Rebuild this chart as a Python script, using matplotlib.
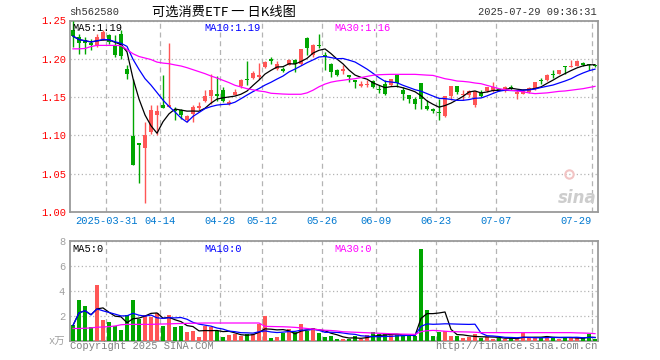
import matplotlib
matplotlib.use("Agg")
import matplotlib.pyplot as plt
import numpy as np
import pandas as pd

plt.rcParams['font.family'] = ['Liberation Mono', 'Noto Sans CJK SC', 'DejaVu Sans']

# ---------------------------------------------------------------- data
holidays = ['2025-04-04', '2025-05-01', '2025-05-02', '2025-05-05', '2025-06-02']
dates = pd.bdate_range('2025-03-21', '2025-07-29')
dates = dates[~dates.isin(pd.to_datetime(holidays))]

opens = [1.237, 1.229, 1.224, 1.2205, 1.2175, 1.226, 1.2305, 1.2175, 1.233, 1.187,
         1.0994, 1.0899, 1.0829, 1.1046, 1.1263, 1.1393, 1.137, 1.1337, 1.1328, 1.12,
         1.1285, 1.136, 1.1445, 1.1515, 1.1545, 1.1597, 1.1406, 1.1524, 1.1645, 1.1732,
         1.1755, 1.1762, 1.1893, 1.1992, 1.1871, 1.1871, 1.1923, 1.198, 1.1936, 1.2274,
         1.2044, 1.2183, 1.2053, 1.1936, 1.1849, 1.184, 1.1783, 1.1727, 1.1645, 1.1658,
         1.1705, 1.161, 1.1675, 1.1653, 1.1783, 1.1597, 1.1523, 1.148, 1.1688, 1.138,
         1.135, 1.1306, 1.125, 1.151, 1.164, 1.1523, 1.1523, 1.1393, 1.1553, 1.158,
         1.158, 1.1592, 1.158, 1.1632, 1.1545, 1.1545, 1.1567, 1.160, 1.1719, 1.1719,
         1.1806, 1.1806, 1.1901, 1.1893, 1.1901, 1.1945, 1.1923, 1.1918]
closes = [1.2296, 1.2205, 1.2205, 1.2175, 1.229, 1.2348, 1.2218, 1.2044, 1.2035, 1.1806,
          1.0611, 1.088, 1.1003, 1.1328, 1.132, 1.1363, 1.1393, 1.1315, 1.1263, 1.125,
          1.137, 1.138, 1.151, 1.1597, 1.1515, 1.145, 1.1437, 1.1567, 1.172, 1.172,
          1.182, 1.1784, 1.1958, 1.1966, 1.1936, 1.184, 1.198, 1.1936, 1.2131, 1.214,
          1.2183, 1.2166, 1.2023, 1.1827, 1.1784, 1.187, 1.1762, 1.1697, 1.1675, 1.1668,
          1.1632, 1.1597, 1.1545, 1.174, 1.1688, 1.1536, 1.148, 1.1406, 1.148, 1.135,
          1.1315, 1.1293, 1.151, 1.164, 1.1566, 1.1536, 1.158, 1.158, 1.151, 1.163,
          1.1632, 1.1588, 1.1632, 1.1602, 1.1565, 1.158, 1.1619, 1.1697, 1.1706, 1.1793,
          1.1793, 1.185, 1.1893, 1.1901, 1.197, 1.1923, 1.1914, 1.191]
highs = [1.249, 1.2326, 1.229, 1.226, 1.2326, 1.237, 1.2326, 1.2305, 1.237, 1.1914,
         1.174, 1.0899, 1.1176, 1.1393, 1.1393, 1.1784, 1.2205, 1.137, 1.135, 1.1263,
         1.1393, 1.1437, 1.1597, 1.1806, 1.1771, 1.1632, 1.1458, 1.161, 1.1741, 1.1966,
         1.1845, 1.1944, 1.1966, 1.2023, 1.1966, 1.1893, 1.2001, 1.2001, 1.2131, 1.2283,
         1.2196, 1.2327, 1.2088, 1.195, 1.1871, 1.1914, 1.1783, 1.1727, 1.171, 1.1718,
         1.1727, 1.1653, 1.1727, 1.174, 1.1783, 1.1632, 1.1523, 1.1502, 1.1688, 1.1458,
         1.1359, 1.148, 1.151, 1.164, 1.164, 1.1597, 1.1589, 1.158, 1.1597, 1.1636,
         1.1697, 1.160, 1.164, 1.1654, 1.159, 1.161, 1.1632, 1.1697, 1.1754, 1.1806,
         1.1858, 1.1858, 1.1901, 1.198, 1.198, 1.1958, 1.1936, 1.1923]
lows = [1.215, 1.2066, 1.2066, 1.211, 1.2153, 1.224, 1.2196, 1.2023, 1.2, 1.174,
        1.0611, 1.038, 1.0121, 1.1024, 1.1003, 1.1363, 1.137, 1.1198, 1.122, 1.1176,
        1.1176, 1.1328, 1.1437, 1.1415, 1.1445, 1.1437, 1.1393, 1.1524, 1.1623, 1.1654,
        1.1732, 1.174, 1.188, 1.1936, 1.1849, 1.1827, 1.1914, 1.1827, 1.1923, 1.2053,
        1.2023, 1.214, 1.1849, 1.1762, 1.1775, 1.1805, 1.1697, 1.1623, 1.1632, 1.1632,
        1.1623, 1.1553, 1.1523, 1.164, 1.1632, 1.1467, 1.1423, 1.1349, 1.135, 1.1337,
        1.1293, 1.1198, 1.1241, 1.1458, 1.1545, 1.1458, 1.1502, 1.1371, 1.1502, 1.1567,
        1.1567, 1.158, 1.157, 1.1589, 1.148, 1.1537, 1.1554, 1.1589, 1.1667, 1.171,
        1.1754, 1.1797, 1.1806, 1.1893, 1.1901, 1.1901, 1.1858, 1.1897]
volumes = [1.25, 3.25, 2.77, 1.12, 4.45, 1.65, 1.49, 1.23, 0.85, 2.1,
           3.25, 1.73, 2.05, 1.92, 2.27, 1.17, 2.05, 1.09, 1.17, 0.69,
           0.77, 0.32, 1.23, 1.12, 0.77, 0.32, 0.45, 0.59, 0.37, 0.59,
           0.53, 1.39, 1.97, 0.24, 0.32, 0.64, 0.93, 0.72, 1.33, 0.77,
           1.01, 0.64, 0.32, 0.37, 0.16, 0.16, 0.19, 0.37, 0.19, 0.45,
           0.69, 0.53, 0.53, 0.45, 0.53, 0.37, 0.43, 0.37, 7.33, 2.45,
           0.37, 0.69, 0.77, 0.37, 0.37, 0.24, 0.32, 0.53, 0.24, 0.32,
           0.16, 0.24, 0.16, 0.24, 0.16, 0.64, 0.24, 0.24, 0.24, 0.43,
           0.32, 0.16, 0.24, 0.24, 0.24, 0.24, 0.53, 0.16]
# MA30 lines (they use history before the first candle)
price_ma30 = [1.213, 1.213, 1.2135, 1.216, 1.2175, 1.2175, 1.2175, 1.2175, 1.2172, 1.212,
              1.2066, 1.203, 1.201, 1.199, 1.1957, 1.1944, 1.1936, 1.192, 1.1906, 1.1884,
              1.1858, 1.1832, 1.1806, 1.1775, 1.1749, 1.1719, 1.1689, 1.1654, 1.1632, 1.161,
              1.1595, 1.158, 1.157, 1.155, 1.1545, 1.154, 1.1537, 1.1537, 1.1537, 1.1555,
              1.159, 1.1635, 1.167, 1.1695, 1.171, 1.172, 1.1731, 1.174, 1.1755, 1.177,
              1.1785, 1.1792, 1.1795, 1.1797, 1.1797, 1.1797, 1.1797, 1.1797, 1.1792, 1.1787,
              1.1783, 1.1762, 1.174, 1.1727, 1.171, 1.1705, 1.1697, 1.1684, 1.1675, 1.1653,
              1.1632, 1.161, 1.1597, 1.1588, 1.158, 1.157, 1.1555, 1.1545, 1.155, 1.1555,
              1.1565, 1.1575, 1.158, 1.159, 1.160, 1.161, 1.1625, 1.164]
vol_ma30 = [1.0, 1.0, 1.02, 1.05, 1.1, 1.12, 1.15, 1.2, 1.3, 1.33,
            1.33, 1.33, 1.33, 1.33, 1.35, 1.36, 1.37, 1.39, 1.4, 1.41,
            1.42, 1.43, 1.44, 1.44, 1.44, 1.44, 1.44, 1.44, 1.44, 1.44,
            1.44, 1.44, 1.17, 1.16, 1.15, 1.14, 1.12, 1.09, 1.05, 1.0,
            0.95, 0.9, 0.86, 0.84, 0.8, 0.74, 0.72, 0.7, 0.68, 0.66,
            0.64, 0.62, 0.6, 0.58, 0.56, 0.55, 0.54, 0.53, 0.75, 0.82,
            0.85, 0.82, 0.78, 0.75, 0.74, 0.73, 0.72, 0.7, 0.67, 0.67,
            0.67, 0.67, 0.67, 0.67, 0.67, 0.67, 0.67, 0.67, 0.67, 0.67,
            0.67, 0.67, 0.67, 0.67, 0.65, 0.64, 0.62, 0.59]

tick_dates = ['2025-03-31', '2025-04-14', '2025-04-28', '2025-05-12', '2025-05-26',
              '2025-06-09', '2025-06-23', '2025-07-07', '2025-07-29']
tick_labels = ['2025-03-31', '04-14', '04-28', '05-12', '05-26',
               '06-09', '06-23', '07-07', '07-29']

# ---------------------------------------------------------------- derived
o = np.array(opens); c = np.array(closes)
h = np.array(highs); l = np.array(lows)
v = np.array(volumes)
x = np.arange(len(c))
ma5 = pd.Series(c).rolling(5, min_periods=1).mean()
ma10 = pd.Series(c).rolling(10, min_periods=1).mean()
vma5 = pd.Series(v).rolling(5, min_periods=1).mean()
vma10 = pd.Series(v).rolling(10, min_periods=1).mean()

RED = '#ff5656'
GREEN = '#00a600'
GRID = '#b4b4b4'
BORDER = '#9a9a9a'
colors = np.where(c >= o, RED, GREEN)
tick_pos = [list(dates.strftime('%Y-%m-%d')).index(d) - 0.5 for d in tick_dates]

W, H = 660, 360
fig = plt.figure(figsize=(W / 100, H / 100), dpi=100)


def box(x0, y0, x1, y1):
    return [x0 / W, 1 - y1 / H, (x1 - x0) / W, (y1 - y0) / H]


def ftxt(px, py, s, **kw):
    fig.text(px / W, 1 - py / H, s, **kw)


ax = fig.add_axes(box(70, 20.5, 598, 212))
axv = fig.add_axes(box(70, 241, 598, 341))

for a in (ax, axv):
    a.set_xlim(-0.5, len(c) - 0.5)
    for s in a.spines.values():
        s.set_color(BORDER)
        s.set_linewidth(1.3)
    a.set_xticks(tick_pos)
    a.tick_params(length=0)
    a.grid(axis='x', color=GRID, linestyle=(0, (4, 3)), linewidth=0.9)
    a.grid(axis='y', color=GRID, linestyle=(0, (1, 2)), linewidth=0.9)
    a.set_axisbelow(True)

# ---------------------------------------------------------------- price panel
ax.set_ylim(1.0, 1.25)
ax.set_yticks([1.0, 1.05, 1.10, 1.15, 1.20, 1.25])
ax.set_yticklabels(['%.2f' % t for t in ax.get_yticks()], color='#ff0000', fontsize=7.5)
ax.set_xticklabels(tick_labels, color='#0078d0', fontsize=7.5)
ax.get_xticklabels()[-1].set_horizontalalignment('right')
ax.tick_params(axis='x', pad=3)
ax.tick_params(axis='y', pad=3)

ax.vlines(x, l, h, colors=colors, linewidth=1.0, zorder=3)
body = np.maximum(np.abs(c - o), 0.0014)
ax.bar(x, body, bottom=np.minimum(o, c), width=0.78, color=colors, linewidth=0, zorder=3)

ax.plot(x, ma5, color='black', lw=0.9, zorder=4)
ax.plot(x, ma10, color='#0000ff', lw=0.9, zorder=4)
ax.plot(x, price_ma30, color='#ff00ff', lw=0.9, zorder=4)

ax.text(0.004, 0.985, 'MA5:%.2f' % ma5.iloc[-1], transform=ax.transAxes,
        color='black', fontsize=7.5, va='top')
ax.text(0.254, 0.985, 'MA10:%.2f' % ma10.iloc[-1], transform=ax.transAxes,
        color='#0000ff', fontsize=7.5, va='top')
ax.text(0.5, 0.985, 'MA30:%.2f' % price_ma30[-1], transform=ax.transAxes,
        color='#ff00ff', fontsize=7.5, va='top')
# faint sina watermark
ax.text(0.997, 0.025, 'sina', transform=ax.transAxes, color='#cdcdcd',
        fontsize=12, fontweight='bold', style='italic', ha='right', va='bottom',
        family='DejaVu Sans', zorder=1)
ax.plot([0.945], [0.2], transform=ax.transAxes, marker='o', ms=6, mfc='none',
        mec='#f2c4c4', mew=1.5, zorder=1)

# ---------------------------------------------------------------- volume panel
axv.set_ylim(0, 8)
axv.set_yticks([0, 2, 4, 6, 8])
axv.set_yticklabels(['x万', '2', '4', '6', '8'], color='#a0a0a0', fontsize=7.5)
axv.set_xticklabels([])
axv.bar(x, v, width=0.78, color=colors, linewidth=0, zorder=3)
axv.plot(x, vma5, color='black', lw=0.9, zorder=4)
axv.plot(x, vma10, color='#0000ff', lw=0.9, zorder=4)
axv.plot(x, vol_ma30, color='#ff00ff', lw=0.9, zorder=4)
axv.text(0.004, 0.97, 'MA5:0', transform=axv.transAxes, color='black', fontsize=7.5, va='top')
axv.text(0.254, 0.97, 'MA10:0', transform=axv.transAxes, color='#0000ff', fontsize=7.5, va='top')
axv.text(0.5, 0.97, 'MA30:0', transform=axv.transAxes, color='#ff00ff', fontsize=7.5, va='top')

# ---------------------------------------------------------------- header / footer
ftxt(69, 12, 'sh562580', color='#333333', fontsize=7.5, va='center')
ftxt(224, 12, '可选消费ETF 一 日K线图', color='black', fontsize=9.5, va='center', ha='center',
     family=['Noto Sans CJK SC', 'DejaVu Sans'])
ftxt(597, 12, '2025-07-29 09:36:31', color='#333333', fontsize=7.5, va='center', ha='right')
ftxt(70, 346, 'Copyright 2025 SINA.COM', color='#808080', fontsize=7.5, va='center')
ftxt(598, 346, 'http://finance.sina.com.cn', color='#808080', fontsize=7.5, va='center', ha='right')

fig.savefig('out.png', dpi=100)
